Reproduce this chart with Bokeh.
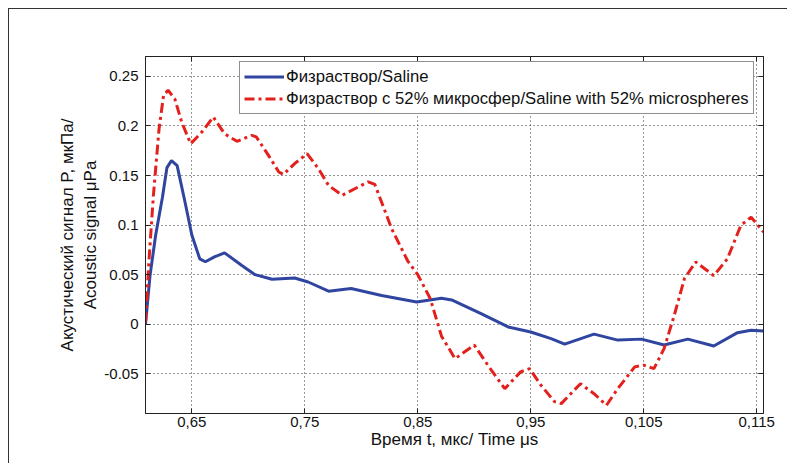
from bokeh.plotting import figure
from bokeh.models import Range1d, FixedTicker, LinearAxis, Legend, LegendItem
from bokeh.embed import file_html
from bokeh.resources import INLINE

# --- data (time in µs, signal in µPa) ---
saline_t = [0.0609, 0.0613, 0.0618, 0.0624, 0.0628, 0.0632, 0.0637, 0.0644, 0.0650,
            0.0657, 0.0662, 0.0670, 0.0679, 0.0694, 0.0706, 0.0721, 0.0741, 0.0753,
            0.0771, 0.0791, 0.0818, 0.0849, 0.0871, 0.0880, 0.0906, 0.0930, 0.0950,
            0.0968, 0.0980, 0.1006, 0.1027, 0.1048, 0.1068, 0.1089, 0.1112, 0.1133,
            0.1145, 0.1156]
saline_p = [0.000, 0.049, 0.090, 0.128, 0.158, 0.165, 0.160, 0.123, 0.090,
            0.066, 0.063, 0.068, 0.072, 0.0595, 0.050, 0.0454, 0.0467, 0.0426,
            0.0333, 0.036, 0.029, 0.0225, 0.0262, 0.0245, 0.0107, -0.0027, -0.0078,
            -0.0145, -0.020, -0.010, -0.016, -0.015, -0.021, -0.015, -0.0219, -0.0085,
            -0.006, -0.0068]

micro_t = [0.0609, 0.0612, 0.0616, 0.0621, 0.0625, 0.0629, 0.0635, 0.0641, 0.0649,
           0.0659, 0.0669, 0.0679, 0.0690, 0.0703, 0.0707, 0.0718, 0.0727, 0.0731,
           0.0741, 0.0752, 0.0762, 0.0771, 0.0783, 0.0806, 0.0812, 0.0827, 0.0841,
           0.0850, 0.0861, 0.0871, 0.0883, 0.0900, 0.0912, 0.0927, 0.0941, 0.0949,
           0.0959, 0.0971, 0.0977, 0.0994, 0.1006, 0.1017, 0.1027, 0.1042, 0.1050,
           0.1059, 0.1068, 0.1077, 0.1086, 0.1096, 0.1112, 0.1124, 0.1136, 0.1145,
           0.1156]
micro_p = [0.002, 0.063, 0.130, 0.197, 0.231, 0.236, 0.227, 0.204, 0.182,
           0.194, 0.209, 0.192, 0.1845, 0.1905, 0.189, 0.170, 0.1535, 0.151,
           0.162, 0.172, 0.157, 0.140, 0.130, 0.1435, 0.141, 0.096, 0.064,
           0.050, 0.026, -0.012, -0.0347, -0.021, -0.0413, -0.065, -0.048, -0.0448,
           -0.0615, -0.078, -0.080, -0.060, -0.070, -0.0817, -0.065, -0.043, -0.0413,
           -0.0448, -0.0246, 0.009, 0.046, 0.0628, 0.049, 0.066, 0.0998, 0.108,
           0.093]

x_ticks = [0.065, 0.075, 0.085, 0.095, 0.105, 0.115]
x_tick_labels = ["0,65", "0,75", "0,85", "0,95", "0,105", "0,115"]
y_ticks = [-0.05, 0.0, 0.05, 0.1, 0.15, 0.2, 0.25]
y_tick_labels = ["-0.05", "0", "0.05", "0.1", "0.15", "0.2", "0.25"]

series_names = ["Физраствор/Saline",
                "Физраствор с 52% микросфер/Saline with 52% microspheres"]

FONT = "Liberation Sans"

p = figure(width=779, height=455, output_backend="svg", toolbar_location=None,
           x_range=Range1d(0.0609, 0.1156), y_range=Range1d(-0.09, 0.27),
           min_border_left=136, min_border_right=25, min_border_top=47,
           min_border_bottom=51)
p.styles = {"border-top": "1px solid #333", "border-left": "1px solid #333",
            "margin-left": "8px", "margin-top": "8px"}
p.background_fill_color = "white"
p.border_fill_color = "white"
p.outline_line_color = "#222222"
p.outline_line_width = 1

# grid
for g in (p.xgrid, p.ygrid):
    g.grid_line_color = "#333333"
    g.grid_line_dash = "1 3"
    g.grid_line_width = 1
p.xgrid.ticker = FixedTicker(ticks=x_ticks)
p.ygrid.ticker = FixedTicker(ticks=y_ticks)

def style_axis(ax):
    ax.axis_line_color = "#222222"
    ax.major_tick_line_color = "#222222"
    ax.major_tick_in = 5
    ax.major_tick_out = 0
    ax.minor_tick_line_color = None
    ax.major_label_text_font = FONT
    ax.major_label_text_font_size = "15px"
    ax.major_label_text_color = "#111111"
    ax.axis_label_text_font = FONT
    ax.axis_label_text_font_size = "17px"
    ax.axis_label_text_font_style = "normal"
    ax.axis_label_text_color = "#111111"

xa = p.xaxis[0]
xa.ticker = FixedTicker(ticks=x_ticks)
xa.major_label_overrides = dict(zip(x_ticks, x_tick_labels))
xa.axis_label = "Время t, мкс/ Time μs"
xa.major_label_standoff = 3
xa.axis_label_standoff = 0
style_axis(xa)

ya = p.yaxis[0]
ya.ticker = FixedTicker(ticks=y_ticks)
ya.major_label_overrides = dict(zip(y_ticks, y_tick_labels))
ya.axis_label = "Акустический сигнал P, мкПа/\nAcoustic signal μPa"
ya.major_label_standoff = 7
ya.axis_label_standoff = 1
style_axis(ya)

top = LinearAxis(ticker=FixedTicker(ticks=x_ticks))
style_axis(top)
top.major_label_overrides = {t: "" for t in x_ticks}
top.major_label_standoff = 0
p.add_layout(top, "above")
right = LinearAxis(ticker=FixedTicker(ticks=y_ticks))
style_axis(right)
right.major_label_overrides = {t: "" for t in y_ticks}
right.major_label_standoff = 0
p.add_layout(right, "right")

r1 = p.line(saline_t, saline_p, line_color="#2f45a0", line_width=3)
r2 = p.line(micro_t, micro_p, line_color="#e3201c", line_width=3,
            line_dash="10 4 3 4")

legend = Legend(items=[LegendItem(label=series_names[0], renderers=[r1]),
                       LegendItem(label=series_names[1], renderers=[r2])],
                location=(94, 299))
legend.label_text_font = FONT
legend.label_text_font_size = "16.7px"
legend.label_text_color = "#111111"
legend.glyph_width = 40
legend.glyph_height = 21
legend.label_height = 21
legend.label_standoff = 2
legend.spacing = 1
legend.padding = 4
legend.margin = 0
legend.border_line_color = "#222222"
legend.border_line_width = 1
legend.background_fill_color = "white"
legend.background_fill_alpha = 1.0
p.add_layout(legend, "center")

open("out.html", "w").write(file_html(p, INLINE))
